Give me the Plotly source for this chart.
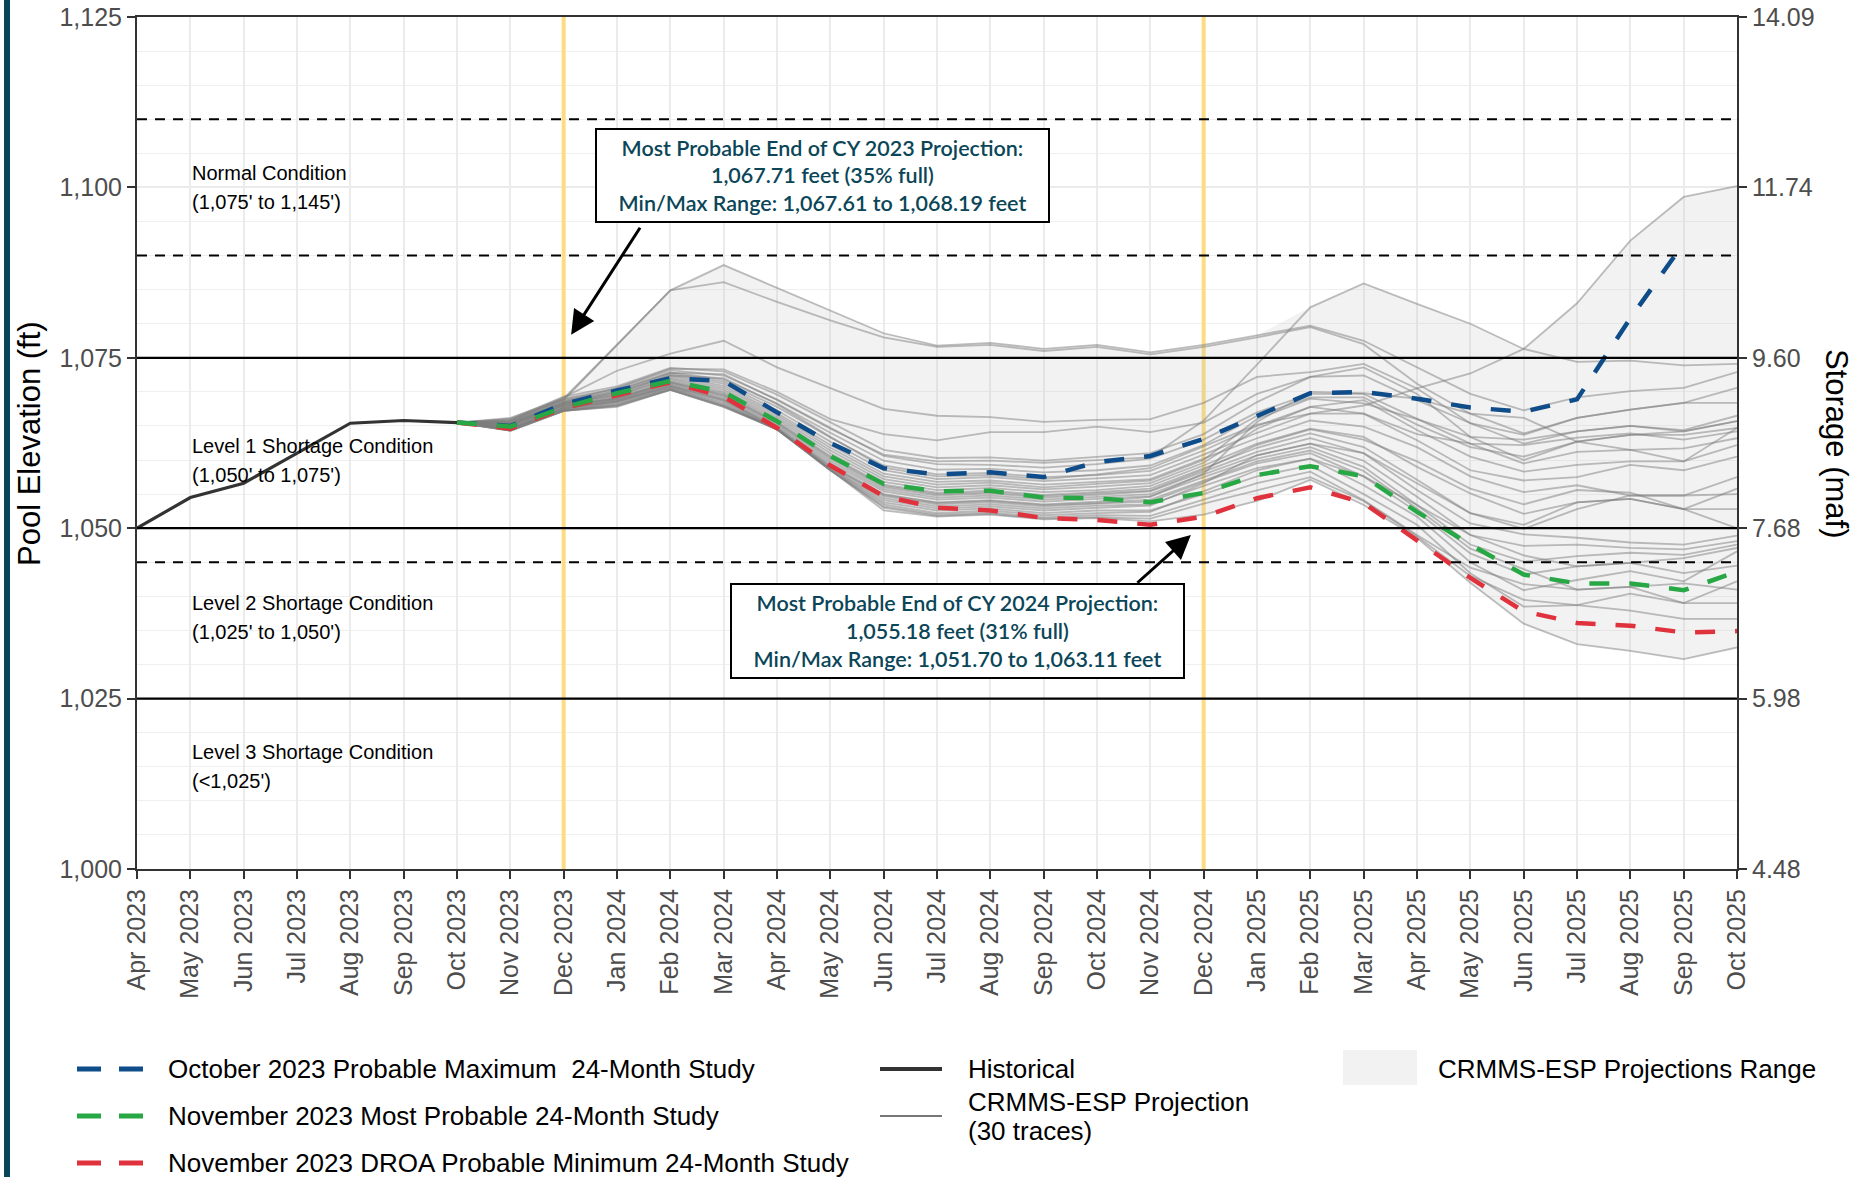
import plotly.graph_objects as go
import numpy as np

# ---------------- data ----------------
months = ["Apr 2023", "May 2023", "Jun 2023", "Jul 2023", "Aug 2023", "Sep 2023", "Oct 2023",
          "Nov 2023", "Dec 2023", "Jan 2024", "Feb 2024", "Mar 2024", "Apr 2024", "May 2024",
          "Jun 2024", "Jul 2024", "Aug 2024", "Sep 2024", "Oct 2024", "Nov 2024", "Dec 2024",
          "Jan 2025", "Feb 2025", "Mar 2025", "Apr 2025", "May 2025", "Jun 2025", "Jul 2025",
          "Aug 2025", "Sep 2025", "Oct 2025"]

hist_months = months[0:7]
historical = [1050.0, 1054.5, 1056.6, 1061.0, 1065.4, 1065.8, 1065.5]

proj_months = months[6:]          # Oct 2023 .. Oct 2025
max_months = months[6:30]         # Oct 2023 .. Sep 2025

prob_max_oct = [1065.5, 1065.0, 1068.19, 1070.2, 1072.0, 1071.6, 1067.0, 1062.5, 1058.8, 1057.9,
                1058.2, 1057.5, 1059.7, 1060.6, 1063.11, 1066.5, 1069.8, 1070.0, 1069.0, 1067.7,
                1067.1, 1068.9, 1080.8, 1091.8]
most_prob_nov = [1065.5, 1064.9, 1067.71, 1069.8, 1071.6, 1070.0, 1065.7, 1060.6, 1056.5, 1055.4,
                 1055.5, 1054.5, 1054.4, 1053.8, 1055.18, 1057.8, 1059.1, 1057.6, 1052.4, 1047.6,
                 1043.2, 1041.9, 1041.9, 1040.9, 1043.6]
prob_min_nov = [1065.5, 1064.6, 1067.61, 1069.5, 1071.4, 1069.3, 1064.7, 1059.2, 1054.7, 1053.0,
                1052.6, 1051.5, 1051.2, 1050.5, 1051.70, 1054.4, 1056.0, 1053.7, 1048.3, 1042.7,
                1037.8, 1036.1, 1035.7, 1034.7, 1034.9]

# 30 CRMMS-ESP traces, Oct 2023 .. Oct 2025
esp_traces = [
    [1065.5, 1066.2, 1069.0, 1077.0, 1084.9, 1088.6, 1085.3, 1082.0, 1078.6, 1076.8, 1077.2, 1076.3, 1076.9, 1075.8, 1076.9, 1078.3, 1079.7, 1077.5, 1073.6, 1069.7, 1067.3, 1069.2, 1070.1, 1070.6, 1072.9],
    [1065.5, 1066.0, 1068.8, 1076.8, 1084.9, 1086.1, 1083.2, 1080.5, 1078.0, 1076.6, 1076.9, 1076.0, 1076.6, 1075.5, 1076.6, 1078.0, 1079.5, 1077.0, 1071.2, 1066.8, 1063.9, 1066.2, 1067.4, 1068.4, 1070.6],
    [1065.5, 1065.8, 1069.2, 1073.1, 1075.6, 1077.5, 1073.6, 1070.5, 1067.5, 1066.5, 1066.3, 1065.6, 1065.9, 1066.0, 1068.4, 1072.2, 1072.9, 1074.1, 1070.5, 1065.4, 1062.4, 1064.2, 1065.0, 1064.2, 1065.7],
    [1065.5, 1065.6, 1068.6, 1070.6, 1073.4, 1073.3, 1070.0, 1066.0, 1063.8, 1062.9, 1064.1, 1064.1, 1064.9, 1064.1, 1065.5, 1069.7, 1072.2, 1073.6, 1069.7, 1063.4, 1060.0, 1062.7, 1063.7, 1063.7, 1064.7],
    [1065.5, 1065.4, 1068.4, 1070.2, 1072.8, 1072.6, 1068.8, 1064.6, 1060.8, 1059.8, 1059.9, 1059.6, 1060.0, 1060.4, 1065.8, 1074.0, 1082.4, 1085.9, 1082.9, 1080.0, 1076.3, 1074.4, 1074.6, 1073.9, 1074.1],
    [1065.5, 1065.2, 1068.2, 1069.9, 1072.4, 1072.0, 1068.2, 1063.4, 1058.9, 1057.6, 1057.8, 1057.2, 1057.9, 1058.8, 1062.0, 1065.2, 1066.8, 1068.0, 1070.5, 1072.7, 1076.3, 1083.0, 1092.2, 1098.6, 1100.2],
    [1065.5, 1066.0, 1069.3, 1070.8, 1073.5, 1073.0, 1069.6, 1065.5, 1061.5, 1060.3, 1060.4, 1059.9, 1060.5, 1061.0, 1063.8, 1068.5, 1072.2, 1072.4, 1068.8, 1065.4, 1063.7, 1066.2, 1067.4, 1068.4, 1068.4],
    [1065.5, 1065.8, 1069.0, 1070.5, 1073.2, 1072.4, 1068.9, 1064.8, 1060.6, 1059.4, 1059.3, 1058.9, 1059.4, 1060.2, 1063.0, 1067.0, 1069.7, 1069.7, 1066.0, 1062.4, 1059.5, 1061.2, 1061.5, 1061.7, 1063.2],
    [1065.5, 1065.7, 1068.9, 1070.3, 1072.9, 1071.8, 1068.3, 1064.0, 1059.9, 1058.6, 1058.7, 1058.2, 1058.5, 1059.2, 1062.2, 1066.5, 1069.2, 1069.2, 1065.2, 1061.9, 1060.5, 1062.7, 1063.7, 1064.2, 1065.7],
    [1065.5, 1065.6, 1068.7, 1070.0, 1072.7, 1071.5, 1067.8, 1063.3, 1059.2, 1057.9, 1058.1, 1057.5, 1057.8, 1058.4, 1061.4, 1065.0, 1067.8, 1068.8, 1064.4, 1060.5, 1058.3, 1059.3, 1059.8, 1059.8, 1062.2],
    [1065.5, 1065.5, 1068.5, 1069.8, 1072.5, 1071.2, 1067.3, 1062.7, 1058.5, 1057.2, 1057.5, 1056.9, 1057.3, 1057.8, 1060.8, 1064.0, 1066.8, 1066.8, 1062.9, 1058.5, 1057.0, 1057.5, 1059.3, 1058.5, 1060.5],
    [1065.5, 1065.4, 1068.4, 1069.6, 1072.3, 1070.9, 1066.9, 1062.2, 1058.0, 1056.8, 1057.0, 1056.4, 1056.8, 1057.2, 1060.2, 1063.2, 1065.8, 1064.9, 1061.9, 1057.6, 1055.3, 1056.3, 1054.8, 1054.8, 1057.5],
    [1065.5, 1065.3, 1068.3, 1069.5, 1072.1, 1070.6, 1066.6, 1061.8, 1057.6, 1056.4, 1056.7, 1056.0, 1056.5, 1057.0, 1060.0, 1066.0, 1069.0, 1068.3, 1066.0, 1063.4, 1063.0, 1064.2, 1065.0, 1064.4, 1066.5],
    [1065.5, 1065.2, 1068.2, 1069.4, 1071.9, 1070.3, 1066.3, 1061.4, 1057.2, 1056.0, 1056.3, 1055.7, 1056.1, 1056.6, 1059.6, 1064.6, 1067.8, 1066.8, 1063.8, 1062.4, 1062.2, 1063.3, 1063.9, 1063.0, 1064.2],
    [1065.5, 1065.1, 1068.1, 1069.2, 1071.7, 1070.0, 1066.0, 1061.0, 1056.8, 1055.6, 1055.9, 1055.3, 1055.6, 1056.2, 1059.2, 1062.4, 1064.6, 1063.4, 1059.0, 1055.1, 1052.1, 1053.8, 1054.3, 1052.8, 1055.8],
    [1065.5, 1065.0, 1068.0, 1069.1, 1071.5, 1069.8, 1065.7, 1060.6, 1056.4, 1055.2, 1055.5, 1054.9, 1055.3, 1055.8, 1058.8, 1061.8, 1063.9, 1061.9, 1057.1, 1052.2, 1049.9, 1052.8, 1054.8, 1054.8, 1055.0],
    [1065.5, 1064.9, 1067.9, 1069.0, 1071.4, 1069.5, 1065.4, 1060.2, 1056.0, 1054.8, 1055.1, 1054.5, 1054.9, 1055.4, 1058.3, 1061.2, 1063.2, 1061.0, 1055.6, 1050.7, 1049.1, 1048.6, 1047.9, 1047.6, 1048.9],
    [1065.5, 1064.8, 1067.8, 1068.9, 1071.2, 1069.3, 1065.2, 1059.9, 1055.7, 1054.5, 1054.8, 1054.2, 1054.6, 1055.0, 1057.9, 1060.7, 1062.4, 1059.9, 1054.6, 1049.0, 1047.4, 1047.6, 1047.1, 1046.9, 1048.1],
    [1065.5, 1064.7, 1067.7, 1068.8, 1071.1, 1069.1, 1065.0, 1059.6, 1055.4, 1054.2, 1054.5, 1053.9, 1054.3, 1054.7, 1057.5, 1060.2, 1061.9, 1059.0, 1053.4, 1047.6, 1045.1, 1045.9, 1046.4, 1046.1, 1047.6],
    [1065.5, 1064.6, 1067.6, 1068.7, 1070.9, 1068.9, 1064.8, 1059.3, 1055.0, 1053.8, 1054.1, 1053.5, 1053.9, 1054.6, 1058.0, 1065.6, 1070.0, 1069.8, 1069.0, 1066.8, 1066.2, 1062.7, 1061.5, 1059.8, 1064.7],
    [1065.5, 1064.6, 1067.5, 1068.6, 1070.8, 1068.7, 1064.6, 1059.0, 1054.7, 1053.5, 1053.8, 1053.2, 1053.6, 1053.9, 1056.8, 1059.5, 1061.0, 1057.6, 1052.4, 1046.3, 1043.2, 1044.4, 1044.9, 1045.6, 1047.1],
    [1065.5, 1064.5, 1067.4, 1068.5, 1070.7, 1068.5, 1064.5, 1058.8, 1054.4, 1053.2, 1053.5, 1052.9, 1053.3, 1053.5, 1056.2, 1058.8, 1060.2, 1056.3, 1051.7, 1045.0, 1040.9, 1042.4, 1043.7, 1042.2, 1046.6],
    [1065.5, 1064.5, 1067.3, 1068.4, 1070.6, 1068.3, 1064.5, 1058.7, 1054.1, 1052.9, 1053.2, 1052.6, 1053.0, 1053.3, 1056.6, 1060.7, 1062.4, 1061.0, 1056.6, 1052.2, 1050.5, 1053.8, 1054.3, 1052.8, 1050.0],
    [1065.5, 1064.4, 1067.3, 1068.2, 1070.5, 1068.1, 1064.5, 1058.6, 1053.8, 1052.6, 1052.9, 1052.2, 1052.6, 1052.6, 1055.0, 1057.6, 1059.2, 1055.0, 1050.5, 1043.4, 1038.5, 1038.7, 1040.4, 1039.0, 1042.2],
    [1065.5, 1064.4, 1067.2, 1068.1, 1070.4, 1068.0, 1064.5, 1058.5, 1053.5, 1052.2, 1052.6, 1051.9, 1052.2, 1052.4, 1055.4, 1058.5, 1060.2, 1057.6, 1053.4, 1049.0, 1046.0, 1044.4, 1044.9, 1043.4, 1044.5],
    [1065.5, 1064.3, 1067.2, 1068.0, 1070.3, 1067.9, 1064.5, 1058.5, 1053.2, 1052.0, 1052.3, 1051.6, 1051.9, 1051.8, 1054.2, 1056.6, 1058.3, 1054.1, 1049.0, 1044.2, 1041.8, 1041.0, 1041.4, 1039.0, 1039.0],
    [1065.5, 1064.3, 1067.2, 1067.9, 1070.3, 1067.8, 1064.5, 1058.5, 1053.0, 1051.8, 1052.1, 1051.4, 1051.6, 1051.4, 1053.6, 1055.5, 1057.5, 1054.0, 1048.8, 1043.0, 1039.5, 1038.7, 1037.9, 1036.7, 1036.7],
    [1065.5, 1064.3, 1067.2, 1067.8, 1070.3, 1067.8, 1064.5, 1058.5, 1052.6, 1051.7, 1052.0, 1051.3, 1051.5, 1051.0, 1052.0, 1054.0, 1057.1, 1053.4, 1048.6, 1042.0, 1036.0, 1033.0, 1032.0, 1030.8, 1032.5],
    [1065.5, 1064.6, 1067.6, 1068.6, 1070.9, 1068.8, 1064.7, 1059.1, 1054.9, 1053.7, 1054.0, 1053.4, 1053.7, 1054.2, 1057.0, 1059.8, 1061.4, 1058.4, 1052.9, 1047.0, 1044.0, 1041.0, 1041.4, 1041.9, 1041.0],
    [1065.5, 1065.0, 1068.0, 1069.0, 1071.4, 1069.6, 1065.5, 1060.4, 1056.2, 1055.0, 1055.3, 1054.7, 1055.1, 1055.5, 1058.6, 1062.2, 1064.5, 1063.0, 1059.8, 1055.8, 1053.5, 1055.6, 1055.2, 1052.8, 1052.8],
]

elev_ticks = [1000, 1025, 1050, 1075, 1100, 1125]
storage_labels = ["4.48", "5.98", "7.68", "9.60", "11.74", "14.09"]
solid_levels = [1075, 1050, 1025]
dashed_levels = [1110, 1090, 1045]
year_end_months = ["Dec 2023", "Dec 2024"]

condition_names = ["Normal Condition", "Level 1 Shortage Condition",
                   "Level 2 Shortage Condition", "Level 3 Shortage Condition"]
condition_ranges = ["(1,075' to 1,145')", "(1,050' to 1,075')", "(1,025' to 1,050')", "(<1,025')"]
condition_y = [1100.0, 1059.9, 1036.9, 1015.0]

box1_text = ("Most Probable End of CY 2023 Projection:<br>1,067.71 feet (35% full)<br>"
             "Min/Max Range: 1,067.61 to 1,068.19 feet")
box2_text = ("Most Probable End of CY 2024 Projection:<br>1,055.18 feet (31% full)<br>"
             "Min/Max Range: 1,051.70 to 1,063.11 feet")

legend_names = ["October 2023 Probable Maximum  24-Month Study",
                "November 2023 Most Probable 24-Month Study",
                "November 2023 DROA Probable Minimum 24-Month Study",
                "Historical", "CRMMS-ESP Projection", "(30 traces)",
                "CRMMS-ESP Projections Range"]

# ---------------- styling ----------------
BLUE, GREEN, RED = "#0f4c8a", "#27a844", "#e0323c"
TEAL = "#0b4658"
FONT = "Liberation Sans, Arial, sans-serif"
L, R, T, B = 137, 125, 17, 308
FW, FH = 1862, 1177
W, H = FW - L - R, FH - T - B


def px(x):
    return (x - L) / W


def py(y):
    return 1 - (y - T) / H


esp = np.array(esp_traces)
lower = esp.min(axis=0)
upper = esp.max(axis=0)

fig = go.Figure()
# end-of-calendar-year marker lines (under all series)
for m in year_end_months:
    fig.add_trace(go.Scatter(x=[m, m], y=[elev_ticks[0], elev_ticks[-1]], mode="lines",
                             line=dict(color="#fcdc82", width=4), showlegend=False, hoverinfo="skip"))
fig.add_trace(go.Scatter(x=proj_months, y=lower, mode="lines", line=dict(width=0),
                         showlegend=False, hoverinfo="skip"))
fig.add_trace(go.Scatter(x=proj_months, y=upper, mode="lines", line=dict(width=0),
                         fill="tonexty", fillcolor="rgba(190,190,190,0.2)",
                         showlegend=False, hoverinfo="skip"))
for tr in esp_traces:
    fig.add_trace(go.Scatter(x=proj_months, y=tr, mode="lines",
                             line=dict(color="rgba(125,125,125,0.5)", width=1.8),
                             showlegend=False))
fig.add_trace(go.Scatter(x=hist_months, y=historical, mode="lines",
                         line=dict(color="#333333", width=3.2), showlegend=False))
fig.add_trace(go.Scatter(x=max_months, y=prob_max_oct, mode="lines",
                         line=dict(color=BLUE, width=4.5, dash="20px,20px"), showlegend=False))
fig.add_trace(go.Scatter(x=proj_months, y=prob_min_nov, mode="lines",
                         line=dict(color=RED, width=4.5, dash="20px,20px"), showlegend=False))
fig.add_trace(go.Scatter(x=proj_months, y=most_prob_nov, mode="lines",
                         line=dict(color=GREEN, width=4.5, dash="20px,20px"), showlegend=False))
# right (storage) axis carrier
fig.add_trace(go.Scatter(x=[months[0]], y=[elev_ticks[0]], yaxis="y2", mode="lines",
                         showlegend=False, hoverinfo="skip"))

shapes = []
for v in solid_levels:
    shapes.append(dict(type="line", xref="paper", x0=0, x1=1, yref="y", y0=v, y1=v,
                       line=dict(color="black", width=2.2), layer="above"))
for v in dashed_levels:
    shapes.append(dict(type="line", xref="paper", x0=0, x1=1, yref="y", y0=v, y1=v,
                       line=dict(color="black", width=2, dash="10px,8px"), layer="above"))
# left accent bar
shapes.append(dict(type="line", xref="paper", x0=px(7), x1=px(7), yref="paper", y0=py(FH), y1=py(0),
                   line=dict(color=TEAL, width=6), layer="above"))

# legend (manual)
leg_rows = [1069, 1116, 1163]
for c, yy in zip([BLUE, GREEN, RED], leg_rows):
    shapes.append(dict(type="line", xref="paper", yref="paper", x0=px(77), x1=px(143),
                       y0=py(yy), y1=py(yy), line=dict(color=c, width=5, dash="24px,18px")))
shapes.append(dict(type="line", xref="paper", yref="paper", x0=px(880), x1=px(942),
                   y0=py(1069), y1=py(1069), line=dict(color="#333333", width=4)))
shapes.append(dict(type="line", xref="paper", yref="paper", x0=px(880), x1=px(942),
                   y0=py(1116), y1=py(1116), line=dict(color="#777777", width=2)))
shapes.append(dict(type="rect", xref="paper", yref="paper", x0=px(1343), x1=px(1417),
                   y0=py(1085), y1=py(1050), fillcolor="#f2f2f2", line=dict(width=0)))

annotations = []
cond_font = dict(family=FONT, size=20, color="black")
for name, rng, yv in zip(condition_names, condition_ranges, condition_y):
    annotations.append(dict(x=1, y=yv + 2.1, xref="x", yref="y", text=name, showarrow=False,
                            xanchor="left", yanchor="middle", font=cond_font))
    annotations.append(dict(x=1, y=yv - 2.1, xref="x", yref="y", text=rng, showarrow=False,
                            xanchor="left", yanchor="middle", font=cond_font))

box_font = dict(family="Lato, Open Sans, sans-serif", size=21.5, color=TEAL, weight=600)
annotations.append(dict(x=12.857, y=1101.8, xref="x", yref="y", text=box1_text, showarrow=False,
                        bgcolor="white", bordercolor="black", borderwidth=2, borderpad=0,
                        width=451, height=91, align="center", yanchor="middle", font=box_font))
annotations.append(dict(x=15.387, y=1034.9, xref="x", yref="y", text=box2_text, showarrow=False,
                        bgcolor="white", bordercolor="black", borderwidth=2, borderpad=0,
                        width=451, height=92, align="center", yanchor="middle", font=box_font))
# arrows
annotations.append(dict(x=8.14, y=1078.4, ax=9.45, ay=1094.3, xref="x", yref="y", axref="x", ayref="y",
                        text="", showarrow=True, arrowhead=2, arrowsize=1.6, arrowwidth=3,
                        arrowcolor="black"))
annotations.append(dict(x=19.76, y=1049.0, ax=18.73, ay=1041.8, xref="x", yref="y", axref="x", ayref="y",
                        text="", showarrow=True, arrowhead=2, arrowsize=1.6, arrowwidth=3,
                        arrowcolor="black"))
# axis titles
annotations.append(dict(x=px(30), y=py(444), xref="paper", yref="paper", text="Pool Elevation (ft)",
                        textangle=-90, showarrow=False, xanchor="center", yanchor="middle",
                        font=dict(family=FONT, size=31, color="black")))
annotations.append(dict(x=px(1836), y=py(444), xref="paper", yref="paper", text="Storage (maf)",
                        textangle=90, showarrow=False, xanchor="center", yanchor="middle",
                        font=dict(family=FONT, size=31, color="black")))
# legend texts
leg_font = dict(family=FONT, size=26, color="black")
for name, yy in zip(legend_names[:3], leg_rows):
    annotations.append(dict(x=px(166), y=py(yy), xref="paper", yref="paper", text=name,
                            showarrow=False, xanchor="left", yanchor="middle", font=leg_font))
annotations.append(dict(x=px(966), y=py(1069), xref="paper", yref="paper", text=legend_names[3],
                        showarrow=False, xanchor="left", yanchor="middle", font=leg_font))
annotations.append(dict(x=px(966), y=py(1102), xref="paper", yref="paper", text=legend_names[4],
                        showarrow=False, xanchor="left", yanchor="middle", font=leg_font))
annotations.append(dict(x=px(966), y=py(1131), xref="paper", yref="paper", text=legend_names[5],
                        showarrow=False, xanchor="left", yanchor="middle", font=leg_font))
annotations.append(dict(x=px(1436), y=py(1069), xref="paper", yref="paper", text=legend_names[6],
                        showarrow=False, xanchor="left", yanchor="middle", font=leg_font))

tickfont = dict(family=FONT, size=25, color="#4d4d4d")
fig.update_layout(
    width=FW, height=FH,
    margin=dict(l=L, r=R, t=T, b=B),
    paper_bgcolor="white", plot_bgcolor="white",
    showlegend=False,
    shapes=shapes, annotations=annotations,
    xaxis=dict(type="category", categoryorder="array", categoryarray=months,
               range=[0, len(months) - 1], tickmode="array", tickvals=months, ticktext=months,
               tickangle=-90, tickfont=tickfont, showgrid=True, gridcolor="#ebebeb", gridwidth=2,
               ticks="outside", ticklen=8, tickwidth=2, tickcolor="#333333", automargin=False,
               showline=True, linecolor="#333333", linewidth=2, mirror=True, zeroline=False),
    yaxis=dict(range=[elev_ticks[0], elev_ticks[-1]], tickmode="array", tickvals=elev_ticks,
               ticktext=[f"{v:,}" for v in elev_ticks], tickfont=tickfont, automargin=False,
               showgrid=True, gridcolor="#ebebeb", gridwidth=2,
               minor=dict(dtick=5, tick0=1000, showgrid=True, gridcolor="#efefef", gridwidth=1.3, ticks=""),
               ticks="outside", ticklen=8, tickwidth=2, tickcolor="#333333",
               showline=True, linecolor="#333333", linewidth=2, zeroline=False),
    yaxis2=dict(overlaying="y", side="right", range=[elev_ticks[0], elev_ticks[-1]],
                tickmode="array", tickvals=elev_ticks, ticktext=storage_labels, tickfont=tickfont,
                showgrid=False, ticks="outside", ticklen=8, tickwidth=2, tickcolor="#333333",
                automargin=False,
                showline=True, linecolor="#333333", linewidth=2, zeroline=False),
)

fig.write_html("out.html", config={"displayModeBar": False},
               post_script="document.body.style.margin='0';document.body.style.overflow='hidden';")
